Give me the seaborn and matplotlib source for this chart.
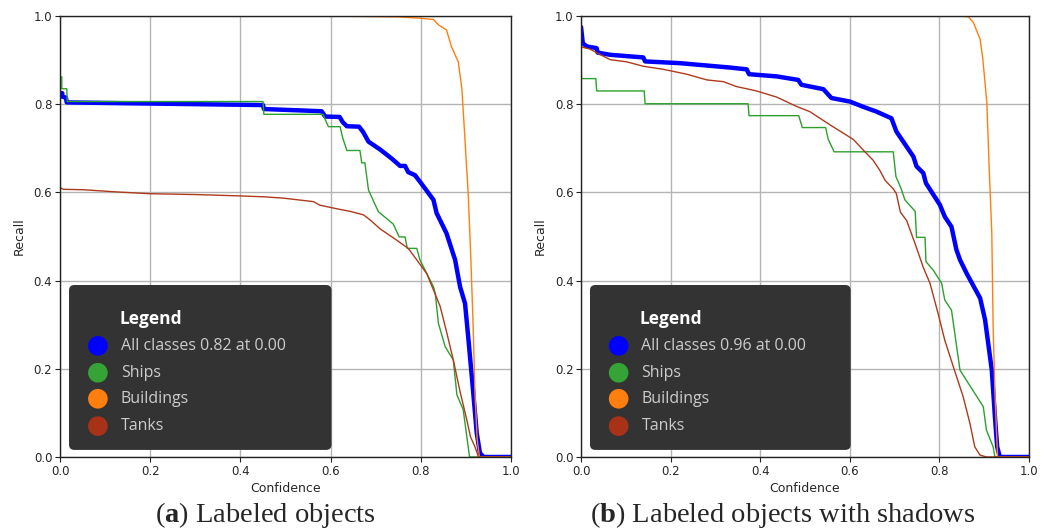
import pandas as pd
import matplotlib.pyplot as plt
import seaborn as sns
from matplotlib.patches import FancyBboxPatch

sns.set_style("whitegrid", {"axes.edgecolor": "#222222", "grid.color": "#b4b4b4",
                            "xtick.bottom": True, "ytick.left": True})
plt.rcParams['font.family'] = ['DejaVu Sans']
plt.rcParams['mathtext.fontset'] = 'custom'
plt.rcParams['mathtext.rm'] = 'Liberation Serif'
plt.rcParams['mathtext.bf'] = 'Liberation Serif:bold'

classes = ['All classes', 'Ships', 'Buildings', 'Tanks']
class_colors = ['#0000ff', '#2ca02c', '#ff7f0e', '#ad3a1c']
legend_colors = ['#0000ff', '#35a335', '#ff7f0e', '#a83218']
class_widths = [3.2, 1.0, 1.0, 1.0]

# (a) Labeled objects
a_all_x = [0, 0.005, 0.005, 0.013, 0.015, 0.45, 0.452, 0.58, 0.588, 0.62, 0.627, 0.636, 0.663, 0.672, 0.684,
           0.71, 0.735, 0.754, 0.765, 0.772, 0.787, 0.802, 0.828, 0.835, 0.857, 0.876, 0.887, 0.898, 0.905,
           0.915, 0.924, 0.931, 0.939, 1.0]
a_all_y = [0.825, 0.825, 0.817, 0.815, 0.804, 0.798, 0.789, 0.784, 0.772, 0.771, 0.759, 0.750, 0.749, 0.737, 0.715,
           0.697, 0.677, 0.660, 0.660, 0.646, 0.639, 0.619, 0.583, 0.553, 0.507, 0.447, 0.386, 0.348, 0.273,
           0.160, 0.054, 0.009, 0.0, 0.0]
a_ships_x = [0, 0.004, 0.004, 0.015, 0.016, 0.45, 0.452, 0.583, 0.595, 0.621, 0.627, 0.636, 0.665, 0.669, 0.676,
             0.684, 0.706, 0.739, 0.752, 0.765, 0.770, 0.791, 0.798, 0.828, 0.832, 0.839, 0.854, 0.872, 0.880,
             0.894, 0.902, 0.908, 1.0]
a_ships_y = [0.862, 0.862, 0.835, 0.835, 0.806, 0.806, 0.777, 0.777, 0.749, 0.749, 0.723, 0.695, 0.695, 0.667,
             0.667, 0.605, 0.556, 0.528, 0.499, 0.499, 0.473, 0.473, 0.447, 0.386, 0.371, 0.303, 0.250, 0.220,
             0.141, 0.107, 0.046, 0.0, 0.0]
a_build_x = [0, 0.6, 0.75, 0.798, 0.828, 0.839, 0.857, 0.868, 0.883, 0.891, 0.898, 0.905, 0.911, 0.916, 0.920,
             0.925, 0.930, 1.0]
a_build_y = [1.0, 1.0, 0.998, 0.995, 0.992, 0.980, 0.968, 0.930, 0.896, 0.835, 0.718, 0.597, 0.447, 0.296,
             0.145, 0.039, 0.0, 0.0]
a_tanks_x = [0, 0.007, 0.052, 0.126, 0.199, 0.303, 0.399, 0.451, 0.495, 0.562, 0.576, 0.613, 0.643, 0.673, 0.687,
             0.710, 0.739, 0.772, 0.791, 0.813, 0.828, 0.843, 0.857, 0.872, 0.887, 0.902, 0.910, 0.920, 0.928, 1.0]
a_tanks_y = [0.611, 0.607, 0.606, 0.601, 0.597, 0.595, 0.592, 0.590, 0.587, 0.579, 0.571, 0.563, 0.557, 0.549,
             0.538, 0.517, 0.497, 0.473, 0.447, 0.416, 0.379, 0.341, 0.284, 0.220, 0.148, 0.084, 0.046, 0.023,
             0.0, 0.0]

# (b) Labeled objects with shadows
b_all_x = [0, 0.004, 0.013, 0.035, 0.037, 0.065, 0.139, 0.143, 0.221, 0.333, 0.370, 0.375, 0.437, 0.485, 0.492,
           0.541, 0.559, 0.600, 0.630, 0.660, 0.693, 0.704, 0.742, 0.749, 0.764, 0.770, 0.801, 0.812, 0.827,
           0.838, 0.846, 0.861, 0.891, 0.902, 0.917, 0.924, 0.929, 0.935, 1.0]
b_all_y = [0.975, 0.938, 0.931, 0.927, 0.917, 0.912, 0.906, 0.897, 0.893, 0.883, 0.879, 0.868, 0.863, 0.855, 0.844,
           0.834, 0.814, 0.806, 0.794, 0.783, 0.768, 0.738, 0.681, 0.659, 0.644, 0.621, 0.572, 0.545, 0.522,
           0.470, 0.447, 0.416, 0.360, 0.311, 0.197, 0.091, 0.023, 0.0, 0.0]
b_ships_x = [0, 0.001, 0.033, 0.035, 0.141, 0.143, 0.373, 0.375, 0.486, 0.494, 0.546, 0.552, 0.565, 0.697, 0.703,
             0.714, 0.723, 0.746, 0.749, 0.768, 0.770, 0.786, 0.805, 0.812, 0.827, 0.846, 0.898, 0.905, 0.920,
             0.924, 1.0]
b_ships_y = [0.915, 0.858, 0.858, 0.830, 0.830, 0.801, 0.801, 0.774, 0.774, 0.747, 0.747, 0.720, 0.692, 0.692,
             0.636, 0.610, 0.583, 0.557, 0.498, 0.498, 0.443, 0.424, 0.394, 0.356, 0.333, 0.197, 0.114, 0.061,
             0.023, 0.0, 0.0]
b_build_x = [0, 0.85, 0.865, 0.876, 0.891, 0.897, 0.906, 0.911, 0.917, 0.920, 0.924, 0.928, 0.930, 1.0]
b_build_y = [1.0, 1.0, 0.998, 0.985, 0.947, 0.902, 0.803, 0.659, 0.508, 0.296, 0.145, 0.046, 0.0, 0.0]
b_tanks_x = [0, 0.02, 0.038, 0.065, 0.102, 0.139, 0.184, 0.236, 0.281, 0.318, 0.347, 0.392, 0.437, 0.481, 0.511,
             0.556, 0.586, 0.608, 0.630, 0.652, 0.667, 0.679, 0.697, 0.704, 0.713, 0.727, 0.746, 0.764, 0.779,
             0.798, 0.812, 0.831, 0.853, 0.868, 0.879, 0.891, 0.906, 1.0]
b_tanks_y = [0.93, 0.925, 0.915, 0.901, 0.896, 0.886, 0.879, 0.868, 0.855, 0.851, 0.840, 0.830, 0.816, 0.795,
             0.783, 0.753, 0.734, 0.720, 0.696, 0.673, 0.650, 0.627, 0.608, 0.597, 0.555, 0.536, 0.483, 0.430,
             0.394, 0.322, 0.265, 0.205, 0.137, 0.077, 0.023, 0.004, 0.0, 0.0]

a_series = [(a_all_x, a_all_y), (a_ships_x, a_ships_y), (a_build_x, a_build_y), (a_tanks_x, a_tanks_y)]
b_series = [(b_all_x, b_all_y), (b_ships_x, b_ships_y), (b_build_x, b_build_y), (b_tanks_x, b_tanks_y)]
a_labels = ['All classes 0.82 at 0.00', 'Ships', 'Buildings', 'Tanks']
b_labels = ['All classes 0.96 at 0.00', 'Ships', 'Buildings', 'Tanks']


def draw_panel(ax, series, labels):
    for (xs, ys), name, color, lw in zip(series, classes, class_colors, class_widths):
        df = pd.DataFrame({'Confidence': xs, 'Recall': ys})
        sns.lineplot(data=df, x='Confidence', y='Recall', ax=ax, color=color, linewidth=lw,
                     estimator=None, sort=False, legend=False)
    ax.set_xlim(0, 1)
    ax.set_ylim(0, 1)
    ax.set_xticks([0, 0.2, 0.4, 0.6, 0.8, 1.0])
    ax.set_yticks([0, 0.2, 0.4, 0.6, 0.8, 1.0])
    ax.grid(True, color='#b4b4b4', linewidth=1.0)
    ax.tick_params(labelsize=8.5, length=3.5, width=0.8, color='#222222', pad=2)
    ax.set_xlabel('Confidence', fontsize=9, labelpad=3)
    ax.set_ylabel('Recall', fontsize=9, labelpad=6)
    for sp in ax.spines.values():
        sp.set_linewidth(1.0)
        sp.set_color('#222222')

    # dark legend box
    box = FancyBboxPatch((0.02, 0.016), 0.582, 0.374, boxstyle="round,pad=0,rounding_size=0.012",
                         transform=ax.transAxes, facecolor='#333333', edgecolor='none', zorder=5)
    ax.add_patch(box)
    ax.text(0.131, 0.313, 'Legend', transform=ax.transAxes, fontsize=12.5, fontweight='bold',
            family='Open Sans', color='white', va='center', zorder=6)
    rows = [0.252, 0.191, 0.132, 0.070]
    ax.scatter([0.084] * 4, rows, s=200, c=legend_colors, transform=ax.transAxes, zorder=6,
               linewidths=0, clip_on=False)
    for ry, lab in zip(rows, labels):
        ax.text(0.135, ry, lab, transform=ax.transAxes, fontsize=11.5, family='Open Sans',
                color='#cccccc', va='center', zorder=6)


fig = plt.figure(figsize=(10.62, 5.31), dpi=100)
ax_a = fig.add_axes([0.0565, 0.1394, 0.4247, 0.8305])
ax_b = fig.add_axes([0.5471, 0.1394, 0.4218, 0.8305])

draw_panel(ax_a, a_series, a_labels)
draw_panel(ax_b, b_series, b_labels)

fig.text(0.2495, 0.030, r'($\mathbf{a}$) Labeled objects', ha='center', va='center',
         fontsize=20.5, family='Liberation Serif')
fig.text(0.737, 0.030, r'($\mathbf{b}$) Labeled objects with shadows', ha='center', va='center',
         fontsize=20.5, family='Liberation Serif')

fig.savefig('out.png', dpi=100)
